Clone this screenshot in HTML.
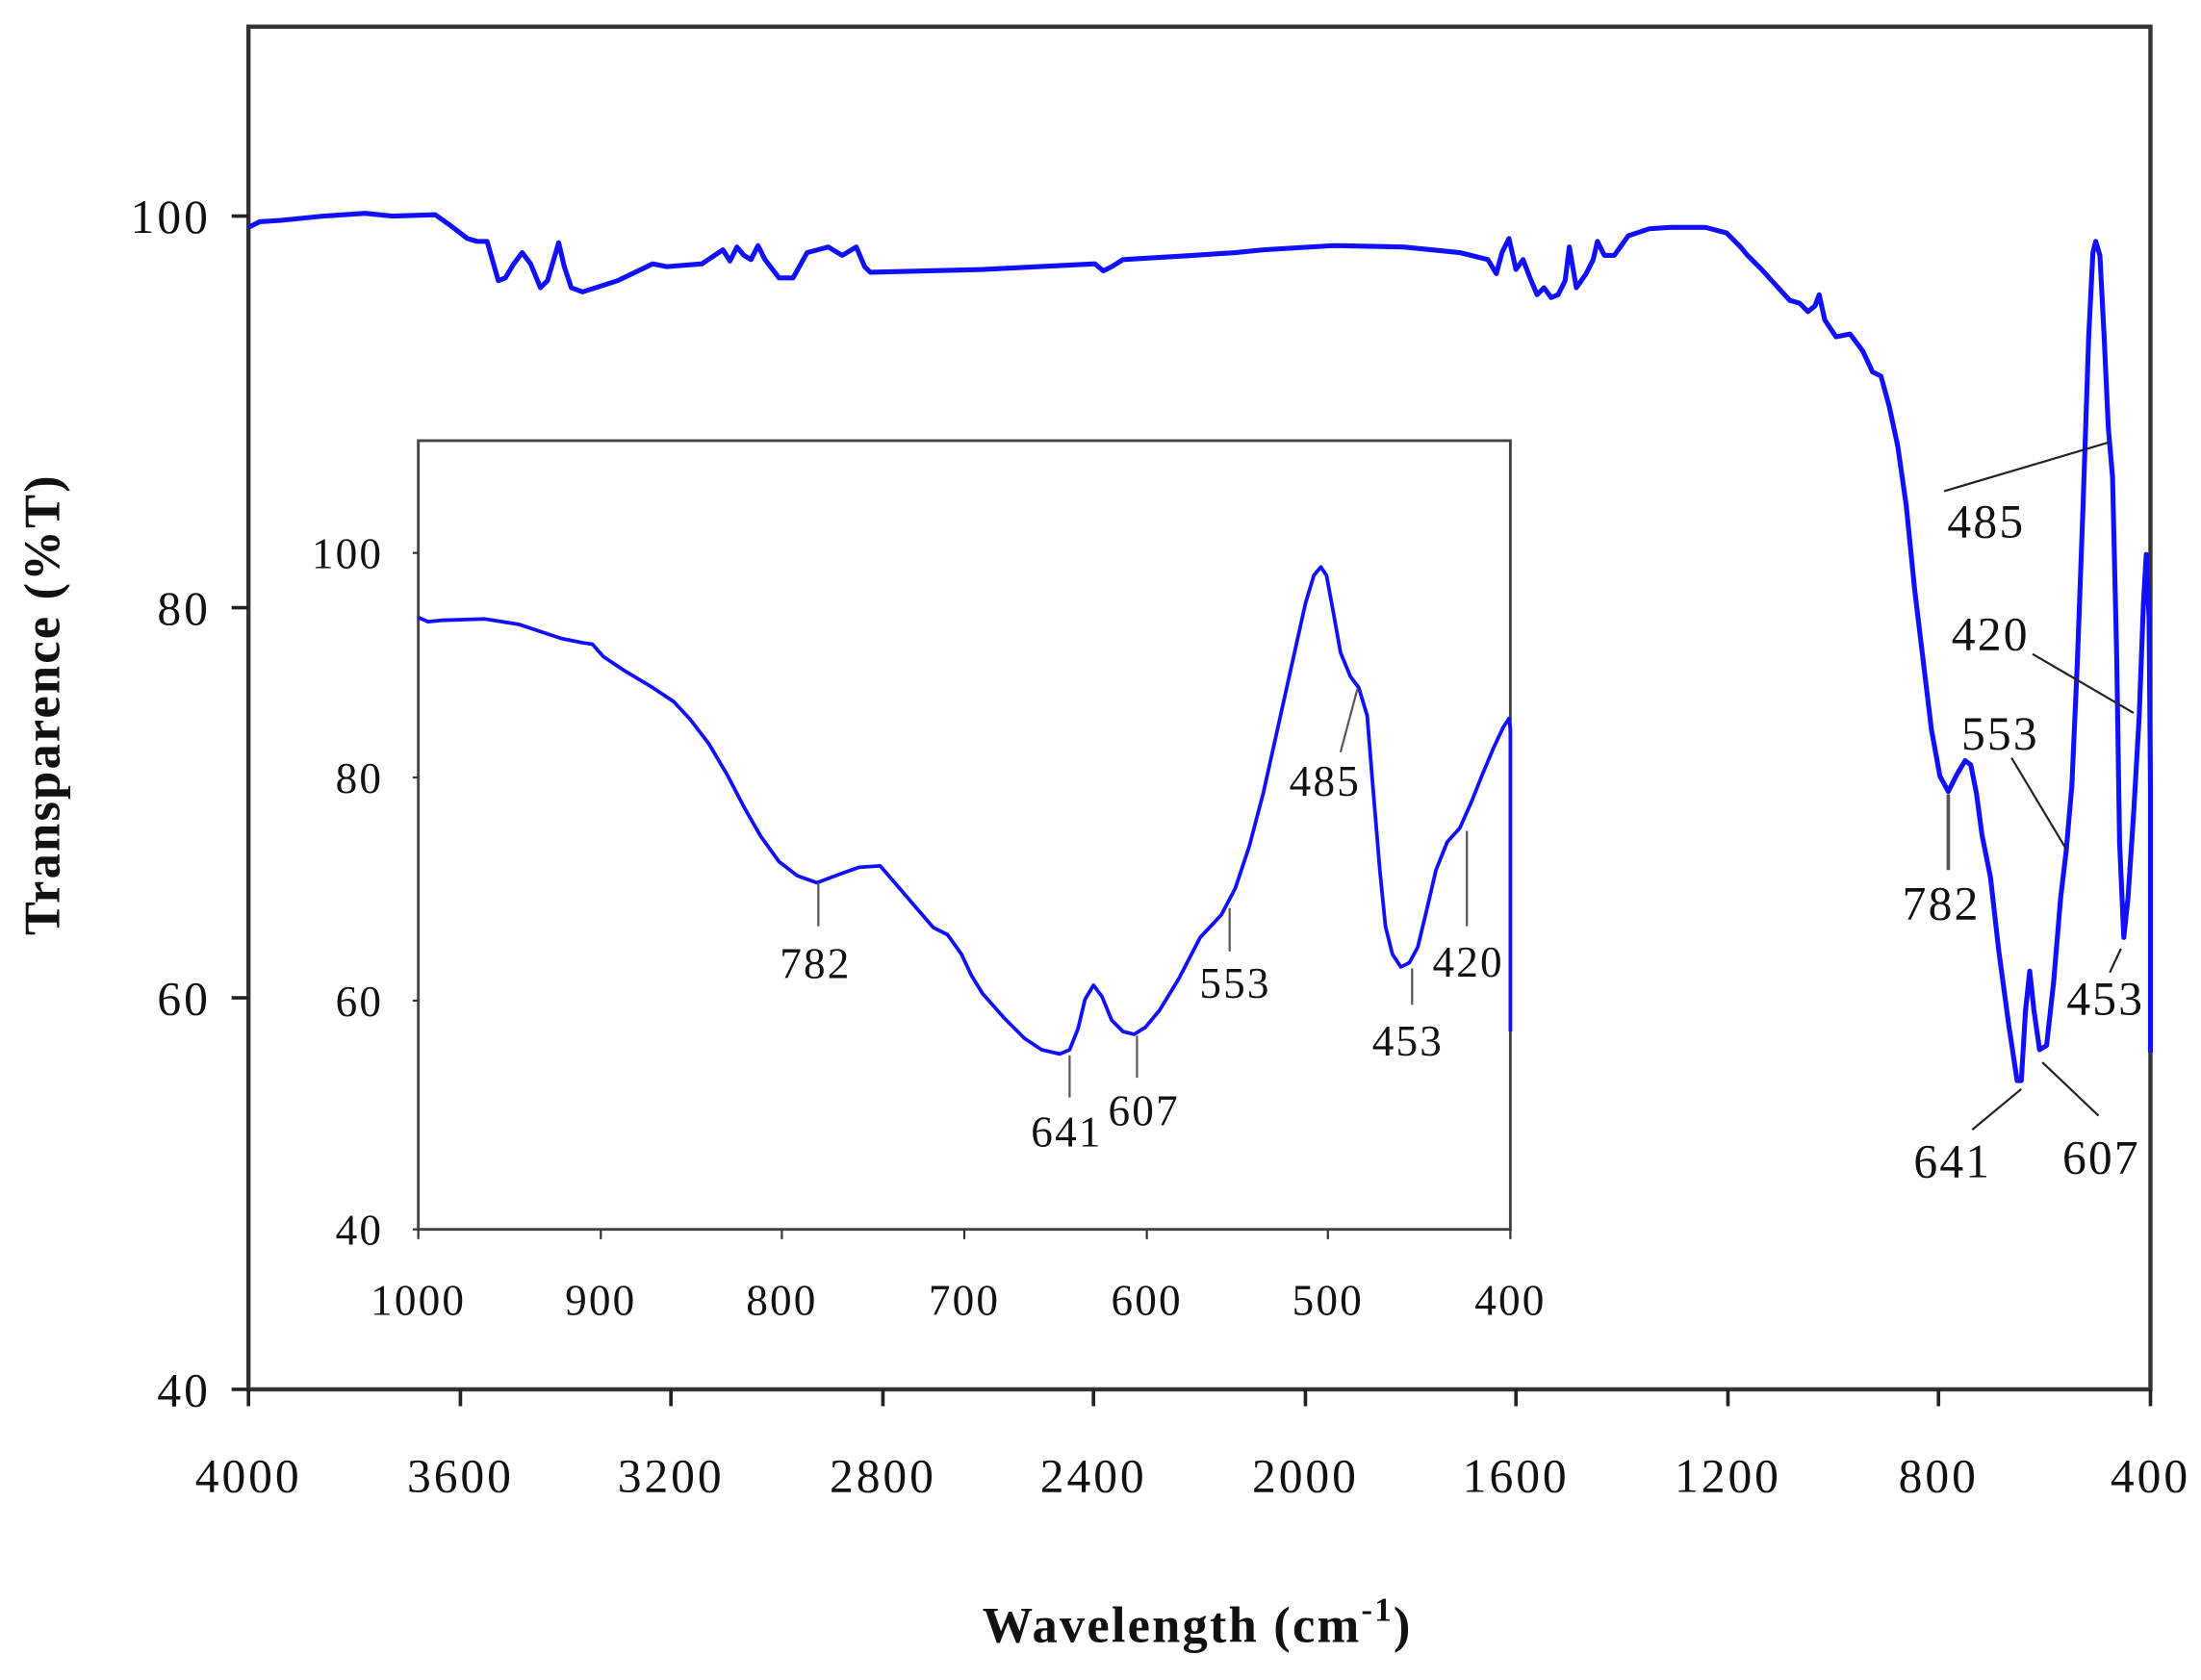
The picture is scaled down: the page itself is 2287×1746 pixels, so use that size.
<!DOCTYPE html>
<html><head><meta charset="utf-8"><style>
html,body{margin:0;padding:0;background:#fff;}
svg{display:block;}
text{font-family:"Liberation Serif",serif;fill:#111;}
</style></head><body>
<svg width="2287" height="1746" viewBox="0 0 1568 1197.1" xmlns="http://www.w3.org/2000/svg">
<rect x="0" y="0" width="1568" height="1198" fill="#fff"/>
<rect x="177" y="19" width="1355" height="971" fill="none" stroke="#333" stroke-width="3"/>
<g stroke="#222" stroke-width="2.5">
<line x1="165" y1="154" x2="177" y2="154"/><line x1="165" y1="433" x2="177" y2="433"/>
<line x1="165" y1="711" x2="177" y2="711"/><line x1="165" y1="990" x2="177" y2="990"/>
<line x1="177" y1="990" x2="177" y2="1002"/><line x1="328" y1="990" x2="328" y2="1002"/>
<line x1="478" y1="990" x2="478" y2="1002"/><line x1="629" y1="990" x2="629" y2="1002"/>
<line x1="779" y1="990" x2="779" y2="1002"/><line x1="930" y1="990" x2="930" y2="1002"/>
<line x1="1080" y1="990" x2="1080" y2="1002"/><line x1="1231" y1="990" x2="1231" y2="1002"/>
<line x1="1381" y1="990" x2="1381" y2="1002"/><line x1="1532" y1="990" x2="1532" y2="1002"/>
</g>
<g font-size="34" text-anchor="end" letter-spacing="2">
<text x="150" y="166">100</text><text x="150" y="445">80</text>
<text x="150" y="723">60</text><text x="150" y="1002">40</text>
</g>
<g font-size="34" text-anchor="middle" letter-spacing="2">
<text x="177" y="1063">4000</text><text x="328" y="1063">3600</text><text x="478" y="1063">3200</text>
<text x="629" y="1063">2800</text><text x="779" y="1063">2400</text><text x="930" y="1063">2000</text>
<text x="1080" y="1063">1600</text><text x="1231" y="1063">1200</text><text x="1381" y="1063">800</text>
<text x="1532" y="1063">400</text>
</g>
<text x="853" y="1170" font-size="36" font-weight="bold" text-anchor="middle" letter-spacing="1.5">Wavelength (cm<tspan font-size="24" dy="-15">-1</tspan><tspan dy="15">)</tspan></text>
<text transform="translate(42,502) rotate(-90)" font-size="36" font-weight="bold" text-anchor="middle" letter-spacing="1.5">Transparence (%T)</text>
<polyline fill="none" stroke="#1010ff" stroke-width="3.5" stroke-linejoin="round" points="177,162 185,158 200,157 230,154 245,153 260,152 280,154 310,153 320,160 333,170 340,172 347,172 355,200 360,198 366,188 372,180 378,188 385,205 390,200 398,173 402,190 407,205 415,208 440,200 465,188 475,190 500,188 515,178 520,186 525,176 530,182 535,185 540,175 545,185 555,198 565,198 575,180 590,176 600,182 610,176 616,190 620,194 700,192 780,188 786,193 792,190 800,185 850,182 880,180 900,178 950,175 1000,176 1040,180 1060,185 1066,195 1070,180 1075,170 1080,192 1085,185 1090,198 1095,210 1100,205 1105,212 1110,210 1115,200 1118,176 1123,205 1130,195 1135,185 1138,172 1143,182 1150,182 1160,168 1175,163 1190,162 1215,162 1230,166 1240,176 1245,182 1255,192 1265,203 1275,214 1282,216 1288,222 1293,218 1296,210 1300,228 1308,240 1318,238 1327,250 1334,265 1340,268 1346,290 1352,318 1358,360 1364,420 1370,470 1376,520 1382,553 1388,564 1394,552 1400,542 1404,545 1408,565 1412,595 1418,625 1424,678 1431,730 1437,770 1440,770 1443,720 1446,692 1449,720 1453,748 1458,745 1463,700 1468,640 1472,606 1476,560 1480,470 1484,360 1488,240 1491,180 1493,172 1496,182 1499,240 1502,305 1505,340 1508,470 1510,600 1513,668 1516,640 1520,580 1524,510 1527,430 1529,395 1531,440 1532,560 1532,750"/>
<g stroke="#222" stroke-width="1.5">
<line x1="1385" y1="350" x2="1503" y2="315"/>
<line x1="1448" y1="466" x2="1520" y2="508"/>
<line x1="1433" y1="540" x2="1472" y2="605"/>
<line x1="1388" y1="566" x2="1388" y2="620" stroke="#555" stroke-width="2.5"/>
<line x1="1503" y1="693" x2="1511" y2="676"/>
<line x1="1405" y1="805" x2="1440" y2="776"/>
<line x1="1455" y1="757" x2="1495" y2="795"/>
</g>
<g font-size="34" text-anchor="middle" letter-spacing="1.5">
<text x="1415" y="383">485</text><text x="1418" y="463">420</text><text x="1425" y="534">553</text>
<text x="1383" y="655">782</text><text x="1500" y="723">453</text><text x="1391" y="839">641</text>
<text x="1497" y="836">607</text>
</g>
<rect x="298" y="314" width="778" height="562" fill="#fff" stroke="#444" stroke-width="2"/>
<g stroke="#333" stroke-width="1.5">
<line x1="294" y1="394" x2="298" y2="394"/><line x1="294" y1="554" x2="298" y2="554"/>
<line x1="294" y1="713" x2="298" y2="713"/><line x1="294" y1="876" x2="298" y2="876"/>
<line x1="298" y1="876" x2="298" y2="883"/><line x1="428" y1="876" x2="428" y2="883"/>
<line x1="557" y1="876" x2="557" y2="883"/><line x1="687" y1="876" x2="687" y2="883"/>
<line x1="817" y1="876" x2="817" y2="883"/><line x1="946" y1="876" x2="946" y2="883"/>
<line x1="1076" y1="876" x2="1076" y2="883"/>
</g>
<g font-size="31" text-anchor="end" letter-spacing="1.5">
<text x="273" y="405">100</text><text x="273" y="565">80</text>
<text x="273" y="724">60</text><text x="273" y="887">40</text>
</g>
<g font-size="31" text-anchor="middle" letter-spacing="1.5">
<text x="298" y="937">1000</text><text x="428" y="937">900</text><text x="557" y="937">800</text>
<text x="687" y="937">700</text><text x="817" y="937">600</text><text x="946" y="937">500</text>
<text x="1076" y="937">400</text>
</g>
<polyline fill="none" stroke="#1010ff" stroke-width="2.6" stroke-linejoin="round" points="298,440 305,443 315,442 345,441 370,445 400,455 415,458 422,459 430,468 445,478 465,490 480,500 492,513 505,530 518,552 530,575 542,596 555,614 568,624 582,629 598,623 612,618 627,617 640,632 652,646 665,661 675,666 685,680 692,695 700,708 715,725 730,740 742,748 755,751 762,748 768,733 773,712 779,702 785,710 792,727 800,735 808,737 816,732 826,720 840,697 855,668 870,652 880,633 890,603 900,565 910,520 920,475 930,430 936,410 941,404 945,410 950,437 955,465 962,482 968,490 974,510 978,560 983,620 987,660 992,680 998,689 1004,686 1010,675 1016,650 1023,620 1031,600 1040,590 1048,572 1056,552 1064,533 1071,518 1075,512 1076,520 1076,735"/>
<g stroke="#555" stroke-width="1.5">
<line x1="583" y1="629" x2="583" y2="660"/>
<line x1="762" y1="752" x2="762" y2="782"/>
<line x1="810" y1="738" x2="810" y2="768"/>
<line x1="876" y1="647" x2="876" y2="678"/>
<line x1="955" y1="536" x2="967" y2="491"/>
<line x1="1006" y1="690" x2="1006" y2="716"/>
<line x1="1045" y1="592" x2="1045" y2="660"/>
</g>
<g font-size="31" text-anchor="middle" letter-spacing="1.5">
<text x="581" y="697">782</text><text x="760" y="817">641</text><text x="815" y="802">607</text>
<text x="880" y="711">553</text><text x="944" y="567">485</text><text x="1003" y="752">453</text>
<text x="1046" y="696">420</text>
</g>
</svg>
</body></html>
